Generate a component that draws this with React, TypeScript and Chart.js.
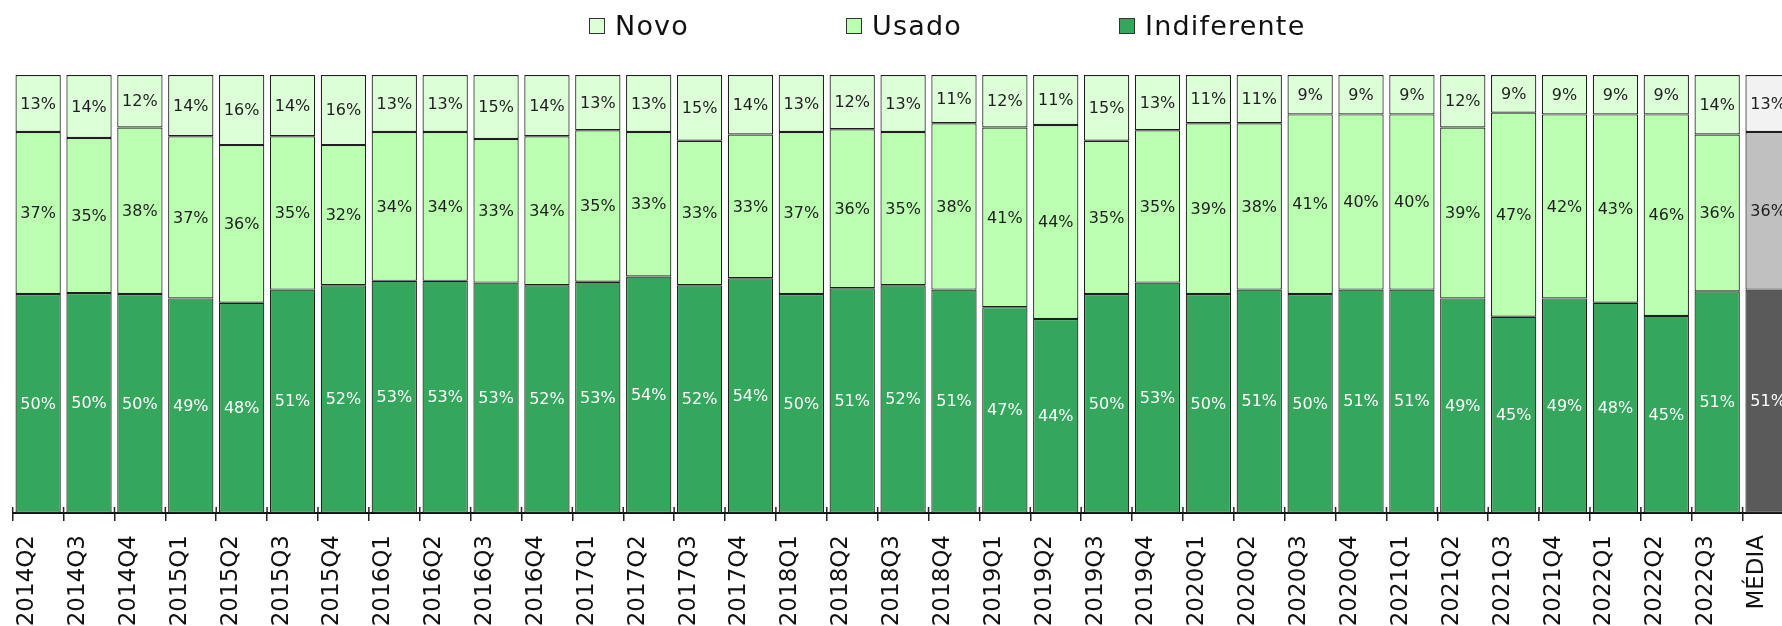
import React, { useEffect, useRef } from 'react';
import { Chart, registerables } from 'chart.js';

Chart.register(...registerables);

const categories = [
  '2014Q2', '2014Q3', '2014Q4',
  '2015Q1', '2015Q2', '2015Q3', '2015Q4',
  '2016Q1', '2016Q2', '2016Q3', '2016Q4',
  '2017Q1', '2017Q2', '2017Q3', '2017Q4',
  '2018Q1', '2018Q2', '2018Q3', '2018Q4',
  '2019Q1', '2019Q2', '2019Q3', '2019Q4',
  '2020Q1', '2020Q2', '2020Q3', '2020Q4',
  '2021Q1', '2021Q2', '2021Q3', '2021Q4',
  '2022Q1', '2022Q2', '2022Q3',
  'MÉDIA',
];

const novo = [
  13, 14.4, 12,
  14, 16, 14, 16,
  13, 13, 14.6, 14,
  12.6, 13, 15, 13.6,
  13, 12.4, 13, 11,
  12, 11.4, 15, 12.6,
  11, 11, 9, 9,
  9, 12, 8.6, 9,
  9, 9, 13.6,
  13,
];

const usado = [
  37, 35.4, 38,
  37, 36, 35, 32,
  34, 34, 32.8, 34,
  34.6, 33, 33, 32.8,
  37, 36.3, 35, 38,
  41, 44.3, 35, 34.8,
  39, 38, 41, 40,
  40, 39, 46.6, 42,
  43, 46, 35.8,
  36,
];

const indiferente = [
  50, 50.2, 50,
  49, 48, 51, 52,
  53, 53, 52.6, 52,
  52.8, 54, 52, 53.6,
  50, 51.3, 52, 51,
  47, 44.3, 50, 52.6,
  50, 51, 50, 51,
  51, 49, 44.8, 49,
  48, 45, 50.6,
  51,
];

const seriesNames = ['Novo', 'Usado', 'Indiferente'];
const AVERAGE = 'MÉDIA';

const FONT = '"DejaVu Sans", sans-serif';
const GREEN = { Novo: '#dcffd8', Usado: '#bbffb1', Indiferente: '#34a75c' };
const GRAY = { Novo: '#f2f2f2', Usado: '#c0c0c0', Indiferente: '#5a5a5a' };
const LABEL_COLOR = { Novo: '#1e1e1e', Usado: '#1e1e1e', Indiferente: '#ffffff' };

const segmentLabels = {
  id: 'segmentLabels',
  afterDatasetsDraw(chart: any) {
    const ctx = chart.ctx;
    ctx.save();
    ctx.font = `16px ${FONT}`;
    ctx.textAlign = 'center';
    ctx.textBaseline = 'middle';
    chart.data.datasets.forEach((ds: any, di: number) => {
      const meta = chart.getDatasetMeta(di);
      meta.data.forEach((el: any, i: number) => {
        const { x, y, base } = el.getProps(['x', 'y', 'base'], true);
        ctx.fillStyle = ds.labelColor;
        ctx.fillText(Math.round(ds.data[i]) + '%', x, (y + base) / 2 + 1);
      });
    });
    ctx.restore();
  },
};

const upTicks = {
  id: 'upTicks',
  afterDraw(chart: any) {
    const xs = chart.scales.x;
    const ctx = chart.ctx;
    const n = chart.data.labels.length;
    ctx.save();
    ctx.strokeStyle = '#222';
    ctx.lineWidth = 1.5;
    for (let i = 0; i <= n; i++) {
      const px = xs.getPixelForValue(i - 0.5);
      ctx.beginPath();
      ctx.moveTo(px, xs.top);
      ctx.lineTo(px, xs.top - 6);
      ctx.stroke();
    }
    ctx.restore();
  },
};

export default function App() {
  const ref = useRef<HTMLCanvasElement>(null);

  useEffect(() => {
    const colorsFor = (name: string) =>
      categories.map((c) => (c === AVERAGE ? (GRAY as any)[name] : (GREEN as any)[name]));
    const values: Record<string, number[]> = { Novo: novo, Usado: usado, Indiferente: indiferente };
    const order = ['Indiferente', 'Usado', 'Novo'];
    const chart = new Chart(ref.current as HTMLCanvasElement, {
      type: 'bar',
      data: {
        labels: categories,
        datasets: order.map((name) => ({
          label: name,
          data: values[name],
          backgroundColor: colorsFor(name),
          borderColor: '#1f1f1f',
          borderWidth: 1.2,
          borderSkipped: false,
          inflateAmount: 0,
          barPercentage: 0.89,
          categoryPercentage: 1,
          labelColor: (LABEL_COLOR as any)[name],
        })) as any,
      },
      options: {
        animation: false,
        responsive: false,
        layout: { padding: { left: 12.7, right: 12.5, top: 75, bottom: 0 } },
        plugins: { legend: { display: false }, tooltip: { enabled: false } },
        scales: {
          x: {
            stacked: true,
            grid: {
              display: true,
              drawOnChartArea: false,
              drawTicks: true,
              tickLength: 8,
              color: '#222',
              lineWidth: 1.5,
              offset: true,
            },
            border: { display: true, color: '#111', width: 2 },
            ticks: {
              autoSkip: false,
              maxRotation: 90,
              minRotation: 90,
              labelOffset: -11,
              padding: 14,
              color: '#111',
              font: { family: FONT, size: 23 },
            },
            afterFit: (s: any) => {
              s.height = 113;
              s.paddingLeft = 0;
              s.paddingRight = 0;
            },
          },
          y: { stacked: true, display: false, min: 0, max: 100 },
        },
      } as any,
      plugins: [segmentLabels, upTicks],
    });
    return () => chart.destroy();
  }, []);

  const legendX = [589, 846, 1119];

  return (
    <div
      style={{
        position: 'fixed',
        left: 0,
        top: 0,
        width: 1782,
        height: 626,
        overflow: 'hidden',
        background: '#fff',
      }}
    >
      <canvas ref={ref} width={1806} height={626} style={{ position: 'absolute', left: 0, top: 0, width: 1806, height: 626 }} />
      {seriesNames.map((name, i) => (
        <div
          key={name}
          style={{
            position: 'absolute',
            left: legendX[i],
            top: 12,
            display: 'flex',
            alignItems: 'center',
            fontFamily: FONT,
            fontSize: 27,
            lineHeight: '27px',
            color: '#111',
            whiteSpace: 'nowrap',
          }}
        >
          <span
            style={{
              display: 'inline-block',
              width: 16,
              height: 16,
              boxSizing: 'border-box',
              border: '1px solid #333',
              background: (GREEN as any)[name],
              marginRight: 10,
            }}
          />
          <span style={{ letterSpacing: '1.2px' }}>{name}</span>
        </div>
      ))}
    </div>
  );
}
